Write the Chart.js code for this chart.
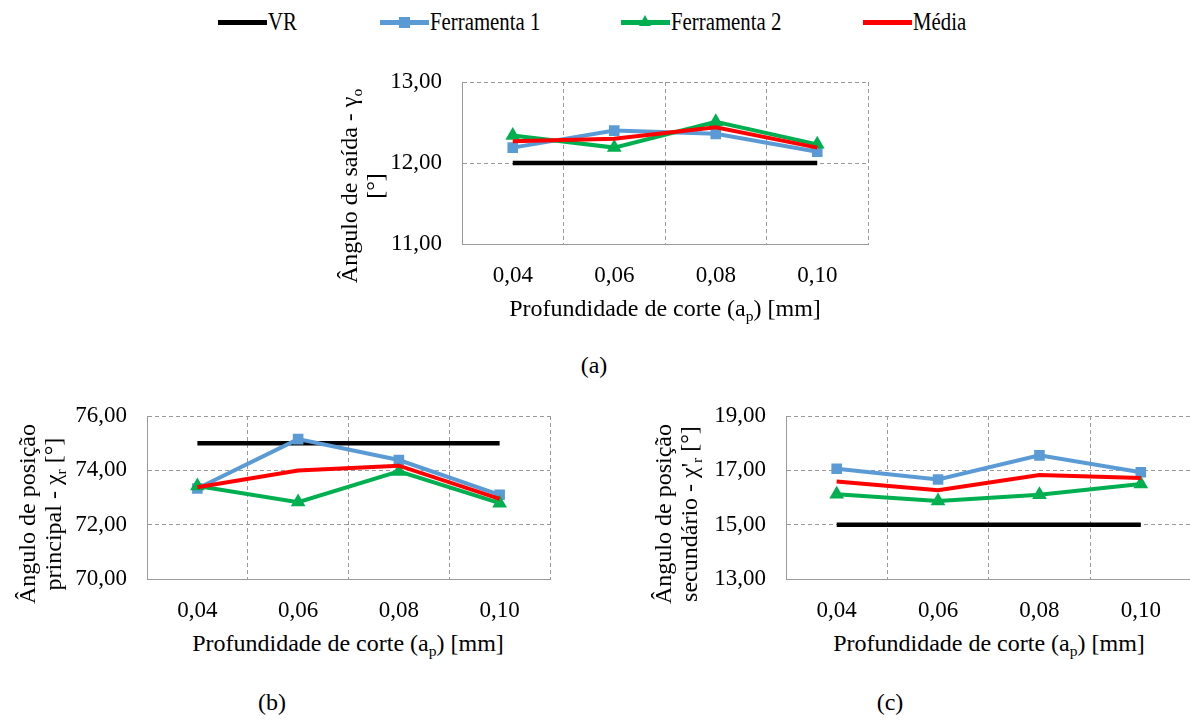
<!DOCTYPE html>
<html lang="pt-BR">
<head>
<meta charset="utf-8">
<script src="https://cdn.jsdelivr.net/npm/chart.js@4"></script>
<style>
  body { margin: 0; width: 1190px; height: 722px; overflow: hidden; background: #fff; color: #000; position: relative; }
  canvas { position: absolute; }
  .t { position: absolute; white-space: nowrap; font-size: 24px; line-height: 1; transform: translate(-50%, -50%); }
  .yt { transform: translate(-50%, -50%) rotate(-90deg); text-align: center; line-height: 26px; }
  sub { font-size: 65%; vertical-align: -0.3em; line-height: 0; }
  .leg { position: absolute; height: 5px; }
  .legtxt { position: absolute; font-size: 26px; line-height: 1; transform-origin: left center; transform: translateY(-50%) scaleX(0.8); white-space: nowrap; }
</style>
</head>
<body>

<canvas id="graficoA" width="580" height="270" style="left:300px; top:60px"></canvas>
<canvas id="graficoB" width="500" height="235" style="left:60px; top:395px"></canvas>
<canvas id="graficoC" width="500" height="235" style="left:700px; top:395px"></canvas>

<div class="t yt" style="left:362px; top:186px; font-family:'Liberation Serif', 'Times New Roman', serif !important">&Acirc;ngulo de sa&iacute;da - &gamma;<sub>o</sub><br>[&deg;]</div>
<div class="t yt" style="left:40px; top:514px; font-family:'Liberation Serif', 'Times New Roman', serif !important">&Acirc;ngulo de posi&ccedil;&atilde;o<br>principal - &chi;<sub>r</sub> [&deg;]</div>
<div class="t yt" style="left:676px; top:514px; font-family:'Liberation Serif', 'Times New Roman', serif !important">&Acirc;ngulo de posi&ccedil;&atilde;o<br>secund&aacute;rio - &chi;'<sub>r</sub> [&deg;]</div>

<div class="t" style="left:665px; top:308px; font-family:'Liberation Serif', 'Times New Roman', serif !important">Profundidade de corte (a<sub>p</sub>) [mm]</div>
<div class="t" style="left:348px; top:643px; font-family:'Liberation Serif', 'Times New Roman', serif !important">Profundidade de corte (a<sub>p</sub>) [mm]</div>
<div class="t" style="left:989px; top:643px; font-family:'Liberation Serif', 'Times New Roman', serif !important">Profundidade de corte (a<sub>p</sub>) [mm]</div>

<div class="t" style="left:594px; top:365px; font-family:'Liberation Serif', 'Times New Roman', serif !important">(a)</div>
<div class="t" style="left:272px; top:702px; font-family:'Liberation Serif', 'Times New Roman', serif !important">(b)</div>
<div class="t" style="left:890px; top:702px; font-family:'Liberation Serif', 'Times New Roman', serif !important">(c)</div>

<div id="legenda"></div>

<script>
// profundidade de corte (ap) em mm
const profundidades = ['0,04', '0,06', '0,08', '0,10'];

const nomesSeries = ['VR', 'Ferramenta 1', 'Ferramenta 2', 'M\u00e9dia'];
const coresSeries = ['#000000', '#5B9BD5', '#00B050', '#FF0000'];
const pontosSeries = [false, 'rect', 'triangle', false];

// (a) angulo de saida
const vrSaida = [12.00, 12.00, 12.00, 12.00];
const f1Saida = [12.19, 12.40, 12.36, 12.14];
const f2Saida = [12.34, 12.19, 12.51, 12.23];
const mediaSaida = [12.27, 12.30, 12.44, 12.19];
const ticksSaida = [11, 12, 13];

// (b) angulo de posicao principal
const vrPrincipal = [75.00, 75.00, 75.00, 75.00];
const f1Principal = [73.33, 75.15, 74.38, 73.10];
const f2Principal = [73.42, 72.83, 73.96, 72.79];
const mediaPrincipal = [73.38, 73.99, 74.17, 72.95];
const ticksPrincipal = [70, 72, 74, 76];

// (c) angulo de posicao secundario
const vrSecundario = [15.00, 15.00, 15.00, 15.00];
const f1Secundario = [17.06, 16.66, 17.55, 16.93];
const f2Secundario = [16.12, 15.87, 16.10, 16.50];
const mediaSecundario = [16.59, 16.27, 16.83, 16.72];
const ticksSecundario = [13, 15, 17, 19];

const corGrade = '#9a9a9a';
const familia = "'Liberation Serif', 'Times New Roman', serif";
const fonte = { family: familia, size: 23 };

const criarGrafico = (idGrafico, ticksY, series, geo) => {
    const datasets = series.map((valores, i) => ({
        label: nomesSeries[i],
        data: valores,
        borderColor: coresSeries[i],
        backgroundColor: coresSeries[i],
        borderWidth: i === 0 ? 4.5 : 4,
        pointStyle: pontosSeries[i],
        pointRadius: pontosSeries[i] === 'rect' ? 7.5 : (pontosSeries[i] ? 8.5 : 0),
        pointBorderWidth: 0,
        tension: 0,
        order: series.length - 1 - i,
    }));

    const config = {
        type: 'line',
        data: { labels: profundidades, datasets: datasets },
        options: {
            responsive: false,
            animation: false,
            layout: { padding: { top: geo.top, right: geo.right, left: 0, bottom: 0 } },
            plugins: { legend: { display: false }, tooltip: { enabled: false } },
            scales: {
                x: {
                    offset: true,
                    grid: { offset: true, color: corGrade, drawTicks: false },
                    border: { color: corGrade, dash: [4, 3] },
                    ticks: { color: '#000', font: fonte, padding: 18, maxRotation: 0 },
                    afterFit: (s) => { s.height = geo.xh; },
                },
                y: {
                    min: ticksY[0],
                    max: ticksY[ticksY.length - 1],
                    grid: { color: corGrade, drawTicks: false },
                    border: { color: corGrade, dash: [4, 3] },
                    ticks: {
                        stepSize: ticksY[1] - ticksY[0],
                        color: '#000',
                        font: fonte,
                        padding: 20,
                        callback: (v) => v.toFixed(2).replace('.', ','),
                    },
                    afterFit: (s) => { s.width = geo.yw; s.paddingTop = 0; s.paddingBottom = 0; },
                },
            },
        },
    };
    return new Chart(document.getElementById(idGrafico), config);
};

const graficos = [
    criarGrafico('graficoA', ticksSaida, [vrSaida, f1Saida, f2Saida, mediaSaida],
        { top: 22, right: 12, yw: 162, xh: 86 }),
    criarGrafico('graficoB', ticksPrincipal, [vrPrincipal, f1Principal, f2Principal, mediaPrincipal],
        { top: 21, right: 10, yw: 87, xh: 51 }),
    criarGrafico('graficoC', ticksSecundario, [vrSecundario, f1Secundario, f2Secundario, mediaSecundario],
        { top: 21, right: 8, yw: 86, xh: 51 }),
];

// redesenha quando a fonte estiver carregada
if (document.fonts && document.fonts.load) {
    document.fonts.load("23px 'Liberation Serif'")
        .then(() => graficos.forEach((g) => g.update('none')))
        .catch(() => {});
}

// legenda no topo
const legendaX = [218, 380, 621, 863];
const legenda = document.getElementById('legenda');
nomesSeries.forEach((nome, i) => {
    const x = legendaX[i];
    let html = '<div class="leg" style="left:' + x + 'px; top:20px; width:49px; background:' + coresSeries[i] + '"></div>';
    if (pontosSeries[i] === 'rect') {
        html += '<div style="position:absolute; left:' + (x + 19) + 'px; top:17px; width:11px; height:11px; background:' + coresSeries[i] + '"></div>';
    } else if (pontosSeries[i] === 'triangle') {
        html += '<div style="position:absolute; left:' + (x + 18) + 'px; top:15px; width:0; height:0; border-left:6px solid transparent; border-right:6px solid transparent; border-bottom:11px solid ' + coresSeries[i] + '"></div>';
    }
    html += '<div class="legtxt" style="left:' + (x + 50) + 'px; top:22px; font-family:' + familia + ' !important">' + nome + '</div>';
    legenda.insertAdjacentHTML('beforeend', html);
});
</script>
</body>
</html>
